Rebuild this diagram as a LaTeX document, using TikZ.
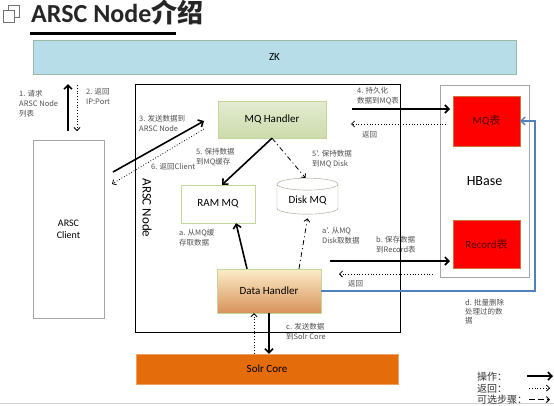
\documentclass[tikz,border=0pt]{standalone}
\usepackage{fontspec}
\setmainfont{Carlito}
\newfontfamily\cjk{Noto Sans CJK SC}
\usepackage{tikz}
\usetikzlibrary{shapes,arrows,arrows.meta,positioning}

\definecolor{zkblue}{HTML}{B7DEE8}
\definecolor{zkline}{HTML}{9BB7A8}
\definecolor{hlgreen}{HTML}{E4ECD2}
\definecolor{hdgreen}{HTML}{CCDBAB}
\definecolor{mqline}{HTML}{C3D69B}
\definecolor{dhtop}{HTML}{FCEDC8}
\definecolor{dhbot}{HTML}{D8925A}
\definecolor{solr}{HTML}{E46C0A}
\definecolor{solrline}{HTML}{F0A060}
\definecolor{tblred}{HTML}{FF0000}
\definecolor{tblline}{HTML}{D0703A}
\definecolor{delblue}{HTML}{4F81BD}
\definecolor{lbltext}{HTML}{505050}

\begin{document}
\begin{tikzpicture}[x=1pt,y=-1pt]
			\tikzstyle{Box}		= [draw, align=center, inner sep=2pt, font=\fontsize{11}{13}\selectfont]
			\tikzstyle{Handler}	= [Box, draw=mqline, top color=hlgreen, bottom color=hdgreen]
			\tikzstyle{Store}	= [Box, draw=mqline, fill=white]
			\tikzstyle{Table}	= [Box, draw=tblline, fill=tblred, text=red!35!black]
			\tikzstyle{Lbl}		= [anchor=north west, align=left, inner sep=0pt, text=lbltext, font=\cjk\fontsize{7.5}{10}\selectfont]
			\tikzstyle{Key}		= [anchor=west, inner sep=0pt, text=black!80, font=\cjk\fontsize{10}{12}\selectfont]
			\tikzstyle{Op}		= [line width=1.6pt, -{Straight Barb[length=4pt,width=8pt]}]
			\tikzstyle{Ret}		= [line width=0.8pt, dotted, -{Straight Barb[length=3pt,width=6pt]}]
			\tikzstyle{Opt}		= [line width=0.8pt, dash pattern=on 5pt off 3pt on 1pt off 3pt, -{Straight Barb[length=3pt,width=6pt]}]
			\tikzstyle{Del}		= [line width=1.3pt, delblue, -{Straight Barb[length=4pt,width=8pt]}]

			\useasboundingbox (0,0) rectangle (554,405);
			\draw [gray!35, line width=1pt] (0,403.5) -- (554,403.5);

			% title
			\draw [gray!90!black, line width=1.4pt, fill=white] (8.5,5.5) rectangle (19.5,17.5);
			\draw [gray!90!black, line width=1.4pt, fill=white] (3.5,10.5) rectangle (14.5,22.5);
			\node (title) at (31,22) [anchor=base west, inner sep=0pt, text=black!85, font=\bfseries\fontsize{26}{28}\selectfont] {ARSC Node{\cjk 介绍}};
			\draw [line width=3pt] (30,33) -- (176,33);

			% boxes
			\node (zk) at (274.5,57) [Box, draw=zkline, fill=zkblue, minimum width=483, minimum height=34] {ZK};
			\node (client) at (68.5,229) [Box, draw=gray!70, fill=white, minimum width=71, minimum height=178, font=\fontsize{10}{12}\selectfont] {ARSC\\Client};
			\node (arsc) at (267.5,208) [draw, minimum width=265, minimum height=248] {};
			\node (arsclbl) at (147,208) [rotate=-90, inner sep=0pt, font=\fontsize{13}{15}\selectfont] {ARSC Node};
			\node (mqh) at (272,119.5) [Handler, minimum width=108, minimum height=37] {MQ Handler};
			\node (ram) at (218,204) [Store, minimum width=74, minimum height=38] {RAM MQ};
			\node (disk) at (307.5,200) [Store, draw=gray!60!mqline, cylinder, shape border rotate=90, aspect=0.3, minimum width=61, minimum height=36, inner sep=1pt] {Disk MQ};
			\node (dh) at (269,291) [Box, draw=mqline, top color=dhtop, bottom color=dhbot, minimum width=104, minimum height=44] {Data Handler};
			\node (solr) at (267,369) [Box, draw=solrline, fill=solr, minimum width=262, minimum height=30] {Solr Core};
			\node (hbase) at (484.5,181) [Box, draw=gray!70, line width=1pt, fill=white, minimum width=89, minimum height=192, font=\fontsize{14}{16}\selectfont] {HBase};
			\node (mqt) at (486.5,121) [Table, minimum width=67, minimum height=50] {MQ{\cjk 表}};
			\node (rect) at (486.5,244.5) [Table, minimum width=67, minimum height=48] {Record{\cjk 表}};

			% free ends of the arrows
			\coordinate (reqa) at (68,131);
			\coordinate (reqb) at (68,84);
			\coordinate (ipa) at (77,85);
			\coordinate (ipb) at (77,131);
			\coordinate (senda) at (113,172);
			\coordinate (sendb) at (204,121);
			\coordinate (backa) at (204,129);
			\coordinate (backb) at (112,184);
			\coordinate (pera) at (352,109);
			\coordinate (perb) at (450,109);
			\coordinate (pra) at (446,124);
			\coordinate (prb) at (351,124);
			\coordinate (saa) at (330,261);
			\coordinate (sab) at (450,261);
			\coordinate (sra) at (433,274);
			\coordinate (srb) at (339,274);
			\coordinate (dturn) at (535,121);

			\draw (reqa) to (reqb) [Op];
			\draw (ipa) to (ipb) [Ret];
			\draw (senda) to (sendb) [Op];
			\draw (backa) to (backb) [Ret];
			\draw (pera) to (perb) [Op];
			\draw (pra) to (prb) [Ret];
			\draw (mqh.south) to ([xshift=4pt]ram.north) [Op];
			\draw (mqh.south) to ([xshift=-2pt]disk.north) [Opt];
			\draw ([xshift=-22pt]dh.north) to ([xshift=18pt]ram.south) [Op];
			\draw ([xshift=30pt]dh.north) to ([xshift=0pt,yshift=-4pt]disk.south) [Opt];
			\draw (saa) to (sab) [Op];
			\draw (sra) to (srb) [Ret];
			\draw (dh.east) -| (dturn) -- (mqt.east) [Del];
			\draw (dh.south) to (dh.south |- solr.north) [Op];
			\draw ([xshift=-15pt]dh.south |- solr.north) to ([xshift=-15pt]dh.south) [Ret];

			% labels
			\node (l1) at (19,90) [Lbl] {1. 请求\\ARSC Node\\列表};
			\node (l2) at (86,88) [Lbl] {2. 返回\\IP:Port};
			\node (l3) at (139,115) [Lbl] {3. 发送数据到\\ARSC Node};
			\node (l6) at (151,163) [Lbl] {6. 返回Client};
			\node (l4) at (357,87) [Lbl] {4. 持久化\\数据到MQ表};
			\node (l4r) at (362,131) [Lbl] {返回};
			\node (l5) at (196,148) [Lbl] {5. 保持数据\\到MQ缓存};
			\node (l5d) at (312,150) [Lbl] {5'. 保持数据\\到MQ Disk};
			\node (la) at (179,229) [Lbl] {a. 从MQ缓\\存取数据};
			\node (lad) at (322,227) [Lbl] {a'. 从MQ\\Disk取数据};
			\node (lb) at (376,236) [Lbl] {b. 保存数据\\到Record表};
			\node (lbr) at (348,280) [Lbl] {返回};
			\node (lc) at (286,323) [Lbl] {c. 发送数据\\到Solr Core};
			\node (ld) at (465,299) [Lbl, font=\cjk\fontsize{7.5}{9}\selectfont] {d. 批量删除\\处理过的数\\据};

			% legend
			\node (kop) at (477,377) [Key] {操作：};
			\node (kret) at (477,388.5) [Key] {返回：};
			\node (kopt) at (477,400) [Key] {可选步骤：};
			\coordinate (kopa) at (527,376);
			\coordinate (kopb) at (553,376);
			\coordinate (kreta) at (529,388);
			\coordinate (kretb) at (550,388);
			\coordinate (kopta) at (529,399.5);
			\coordinate (koptb) at (550,399.5);
			\draw (kopa) to (kopb) [Op];
			\draw (kreta) to (kretb) [Ret];
			\draw (kopta) to (koptb) [line width=1pt, dash pattern=on 6pt off 3pt, -{Straight Barb[length=3pt,width=6pt]}];
		\end{tikzpicture}
\end{document}
